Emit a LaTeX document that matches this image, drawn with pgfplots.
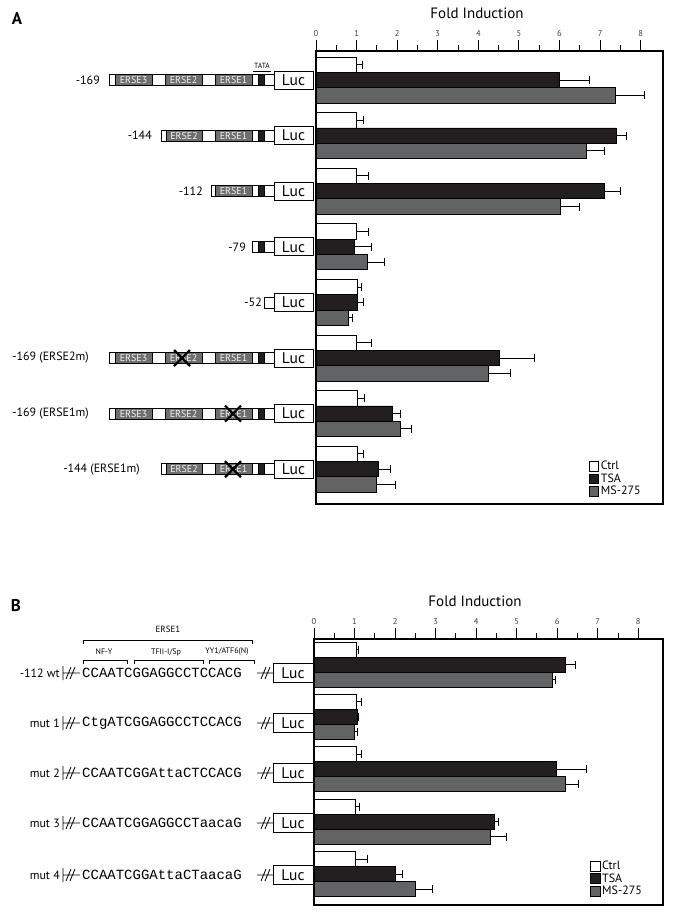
\documentclass[border=0pt]{standalone}
\usepackage{pgfplots}
\pgfplotsset{compat=1.18}
\usepackage{fontspec}
\setmainfont{PT Sans}
\newfontfamily\seqfont{Liberation Mono}
\definecolor{tsa}{HTML}{231F20}
\definecolor{ms}{HTML}{626365}
\definecolor{erse}{HTML}{6D6E70}
\newcommand\ersefont{\fontsize{10}{10}\selectfont}
\newcommand\lucfont{\fontsize{15.5}{16}\selectfont}
\newcommand\labfont{\fontsize{12}{14}\selectfont}
\newcommand\cW[3]{\draw[line width=0.6pt,fill=white] (#1,#3-5.5) rectangle (#2,#3+5.5);}
\newcommand\cK[3]{\draw[line width=0.6pt,fill=tsa] (#1,#3-5.5) rectangle (#2,#3+5.5);}
\newcommand\cG[4]{\draw[line width=0.6pt,fill=erse] (#1,#3-5.5) rectangle (#2,#3+5.5);
  \node[font=\ersefont, text=black!5, inner sep=0pt] at ({(#1+#2)/2},#3) {#4};}
\newcommand\luc[2]{\draw[line width=0.8pt,fill=white] (#1,#2-9) rectangle (#1+39,#2+9);
  \node[font=\lucfont, inner sep=0pt] at (#1+19.5,#2) {Luc};}
\newcommand\ctail[1]{\cW{252}{258}{#1}\cK{258}{264}{#1}\cW{264}{274}{#1}\luc{274}{#1}}
\newcommand\cfull[1]{\cW{109}{115}{#1}\cG{115}{152}{#1}{ERSE3}\cW{152}{165}{#1}\cG{165}{202}{#1}{ERSE2}\cW{202}{215}{#1}\cG{215}{252}{#1}{ERSE1}\ctail{#1}}
\newcommand\cmid[1]{\cW{161}{166}{#1}\cG{166}{202}{#1}{ERSE2}\cW{202}{215}{#1}\cG{215}{252}{#1}{ERSE1}\ctail{#1}}
\newcommand\cshort[1]{\cW{211}{215}{#1}\cG{215}{252}{#1}{ERSE1}\ctail{#1}}
\newcommand\xmark[2]{\draw[line width=2.2pt] (#1-8,#2-8) -- (#1+8,#2+8) (#1-8,#2+8) -- (#1+8,#2-8);}
\newcommand\lbrk[1]{\draw[line width=0.8pt] (63,#1-7) -- (63,#1+7) (63,#1) -- (80,#1) (66,#1+6) -- (71,#1-6) (70,#1+6) -- (75,#1-6);}
\newcommand\rbrk[1]{\draw[line width=0.8pt] (257,#1) -- (273,#1) (261,#1+6) -- (266,#1-6) (265,#1+6) -- (270,#1-6);}
\newcommand\seqrow[3]{\node[font=\labfont, anchor=east, inner sep=0pt] at (60,#1) {#2};
  \lbrk{#1}\node[font=\seqfont\fontsize{14}{14}\selectfont, anchor=west, inner sep=0pt] at (82,#1) {#3};
  \rbrk{#1}\draw[line width=0.8pt,fill=white] (273,#1-9.5) rectangle (313,#1+9.5);
  \node[font=\lucfont, inner sep=0pt] at (293,#1) {Luc};}

\pgfplotsset{
  foldaxis/.style={
    scale only axis, anchor=north west,
    xbar, xmin=0,
    y dir=reverse, ytick=\empty,
    xtick={0,...,8}, minor xtick={0.5,1.5,...,7.5},
    xtick pos=upper, xticklabel pos=upper, tick align=outside,
    major tick length=11pt, minor tick length=6pt,
    every tick/.style={black, line width=1pt},
    axis line style={line width=1.2pt},
    xticklabel style={font=\fontsize{8.5}{9}\selectfont, text=black!75},
    /pgf/number format/assume math mode=true,
    clip=false,
    error bars/x dir=plus, error bars/x explicit,
    error bars/error mark=|,
    error bars/error bar style={line width=1pt, black},
    error bars/error mark options={black, line width=1pt, mark size=4pt},
    legend style={draw=none, fill=none, anchor=south west,
      font=\labfont, row sep=-1.5pt, inner sep=0pt, cells={anchor=west}},
    legend image code/.code={\draw[#1, line width=0.7pt] (0pt,-4.8pt) rectangle (9.6pt,4.8pt);},
  },
  ctrl/.style={draw=black, line width=0.8pt, fill=white},
  tsab/.style={draw=black, line width=0.8pt, fill=tsa},
  msb/.style={draw=black, line width=0.8pt, fill=ms},
}

\begin{document}
\begin{tikzpicture}
\path (0pt,0pt) rectangle (677pt,-914pt);
\begin{scope}[x=1pt,y=-1pt]
\node[font=\bfseries\fontsize{17}{17}\selectfont] at (17,19) {A};
\node[font=\bfseries\fontsize{17}{17}\selectfont] at (16,606) {B};
\node[font=\fontsize{15}{15}\selectfont] at (477,13) {Fold Induction};
\node[font=\fontsize{15}{15}\selectfont] at (475,601) {Fold Induction};
% panel A constructs
\node[font=\fontsize{7.5}{8}\selectfont, inner sep=0pt] at (262,66) {TATA};
\draw[line width=0.6pt] (253,71.5) -- (271,71.5);
\cfull{80}   \node[font=\labfont, anchor=east, inner sep=0pt] at (100,80) {-169};
\cmid{135.6} \node[font=\labfont, anchor=east, inner sep=0pt] at (152,135.6) {-144};
\cshort{191.2} \node[font=\labfont, anchor=east, inner sep=0pt] at (203,191.2) {-112};
\ctail{246.8} \node[font=\labfont, anchor=east, inner sep=0pt] at (246,246.8) {-79};
\cW{264}{274}{302.4}\luc{274}{302.4} \node[font=\labfont, anchor=east, inner sep=0pt] at (262,302.4) {-52};
\cfull{358} \xmark{182}{358} \node[font=\labfont, anchor=east, inner sep=0pt] at (89,358) {-169 (ERSE2m)};
\cfull{413.6} \xmark{233}{413.6} \node[font=\labfont, anchor=east, inner sep=0pt] at (89,413.6) {-169 (ERSE1m)};
\cmid{469.2} \xmark{233}{469.2} \node[font=\labfont, anchor=east, inner sep=0pt] at (140,469.2) {-144 (ERSE1m)};
% panel B constructs
\node[font=\fontsize{9}{9}\selectfont, inner sep=0pt] at (168,629) {ERSE1};
\draw[line width=0.8pt] (83,644) -- (83,640) -- (252,640) -- (252,644);
\node[font=\fontsize{8}{8}\selectfont, inner sep=0pt] at (104,652) {NF-Y};
\node[font=\fontsize{8}{8}\selectfont, inner sep=0pt] at (166,652) {TFII-I/Sp};
\node[font=\fontsize{8}{8}\selectfont, inner sep=0pt] at (227,652) {YY1/ATF6(N)};
\draw[line width=0.8pt] (83,664) -- (83,660) -- (127,660) -- (127,664);
\draw[line width=0.8pt] (134,664) -- (134,660) -- (203,660) -- (203,664);
\draw[line width=0.8pt] (209,664) -- (209,660) -- (254,660) -- (254,664);
\seqrow{673}{-112 wt}{CCAATCGGAGGCCTCCACG}
\seqrow{723}{mut 1}{CtgATCGGAGGCCTCCACG}
\seqrow{773}{mut 2}{CCAATCGGAttaCTCCACG}
\seqrow{823}{mut 3}{CCAATCGGAGGCCTaacaG}
\seqrow{875}{mut 4}{CCAATCGGAttaCTaacaG}
\end{scope}

\begin{axis}[foldaxis, at={(316pt,-51pt)}, width=347pt, height=453pt,
  xmax=8.55, ymin=0.478, ymax=8.626, bar width=0.275,
  legend style={at={(0.785,0.012)}}]
\addplot[ctrl, bar shift=-0.275] coordinates {
 (1.00,1) +- (0.15,0) (1.00,2) +- (0.17,0) (1.00,3) +- (0.29,0) (1.00,4) +- (0.30,0)
 (1.02,5) +- (0.10,0) (1.00,6) +- (0.36,0) (1.03,7) +- (0.17,0) (1.03,8) +- (0.15,0)};
\addplot[tsab, bar shift=0] coordinates {
 (6.00,1) +- (0.73,0) (7.39,2) +- (0.26,0) (7.10,3) +- (0.40,0) (0.94,4) +- (0.42,0)
 (1.02,5) +- (0.16,0) (4.53,6) +- (0.85,0) (1.89,7) +- (0.19,0) (1.54,8) +- (0.30,0)};
\addplot[msb, bar shift=0.275] coordinates {
 (7.37,1) +- (0.73,0) (6.67,2) +- (0.43,0) (6.03,3) +- (0.46,0) (1.27,4) +- (0.41,0)
 (0.80,5) +- (0.10,0) (4.25,6) +- (0.55,0) (2.09,7) +- (0.27,0) (1.49,8) +- (0.46,0)};
\legend{Ctrl,TSA,MS-275}
\end{axis}

\begin{axis}[foldaxis, at={(314pt,-639pt)}, width=349pt, height=266pt,
  xmax=8.61, ymin=0.513, ymax=5.59, bar width=0.286,
  legend style={at={(0.79,0.025)}}]
\addplot[ctrl, bar shift=-0.286] coordinates {
 (1.04,1) +- (0.05,0) (1.04,2) +- (0.14,0) (1.05,3) +- (0.13,0) (1.02,4) +- (0.11,0) (1.02,5) +- (0.29,0)};
\addplot[tsab, bar shift=0] coordinates {
 (6.21,1) +- (0.25,0) (1.07,2) +- (0.03,0) (5.97,3) +- (0.76,0) (4.46,4) +- (0.09,0) (2.02,5) +- (0.17,0)};
\addplot[msb, bar shift=0.286] coordinates {
 (5.88,1) +- (0.07,0) (0.99,2) +- (0.08,0) (6.19,3) +- (0.34,0) (4.36,4) +- (0.39,0) (2.49,5) +- (0.43,0)};
\legend{Ctrl,TSA,MS-275}
\end{axis}
\end{tikzpicture}
\end{document}
